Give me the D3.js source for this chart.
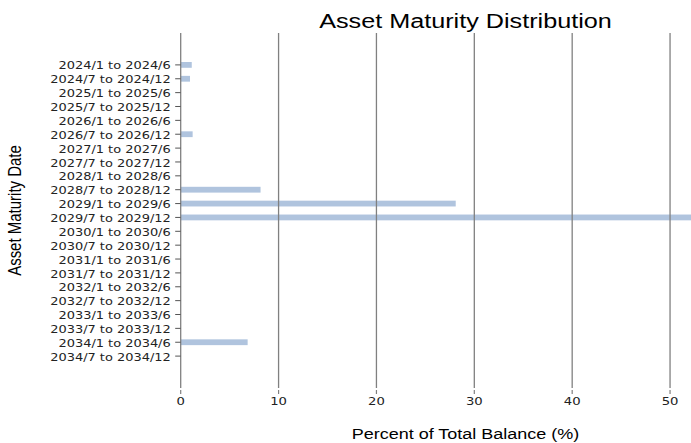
<!DOCTYPE html>
<html>
<head>
<meta charset="utf-8">
<script src="https://cdn.jsdelivr.net/npm/d3@7"></script>
<style>
  html, body { margin: 0; padding: 0; background: #fff; }
  svg { display: block; }
</style>
</head>
<body>
<div id="chart"></div>
<script>
const categories = [
  "2024/1 to 2024/6", "2024/7 to 2024/12",
  "2025/1 to 2025/6", "2025/7 to 2025/12",
  "2026/1 to 2026/6", "2026/7 to 2026/12",
  "2027/1 to 2027/6", "2027/7 to 2027/12",
  "2028/1 to 2028/6", "2028/7 to 2028/12",
  "2029/1 to 2029/6", "2029/7 to 2029/12",
  "2030/1 to 2030/6", "2030/7 to 2030/12",
  "2031/1 to 2031/6", "2031/7 to 2031/12",
  "2032/1 to 2032/6", "2032/7 to 2032/12",
  "2033/1 to 2033/6", "2033/7 to 2033/12",
  "2034/1 to 2034/6", "2034/7 to 2034/12"
];
const percentValues = [
  1.13, 0.95,
  0, 0,
  0, 1.22,
  0, 0,
  0, 8.16,
  28.1, 53.6,
  0, 0,
  0, 0,
  0, 0,
  0, 0,
  6.84, 0
];
const xTickValues = [0, 10, 20, 30, 40, 50];
const xAxisMax = 58.2;
const titleText = "Asset Maturity Distribution";
const xLabelText = "Percent of Total Balance (%)";
const yLabelText = "Asset Maturity Date";

const W = 691, H = 443;
const SX = 1.2; // horizontal stretch of the original picture
const plot = { left: 180.7, right: 750.3, top: 33, bottom: 388 };

const svg = d3.select("#chart").append("svg")
  .attr("width", W).attr("height", H);

const x = d3.scaleLinear().domain([0, xAxisMax]).range([plot.left, plot.right]);
const y = d3.scalePoint().domain(categories).range([plot.top, plot.bottom]).padding(2.3);

svg.append("defs").append("clipPath").attr("id", "plotclip")
  .append("rect").attr("x", plot.left).attr("y", plot.top)
  .attr("width", plot.right - plot.left).attr("height", plot.bottom - plot.top);

function stext(parent, tx, ty, str, opts) {
  return parent.append("text")
    .attr("transform", `translate(${tx},${ty}) scale(${SX},1)` + (opts.rotate ? ` rotate(${opts.rotate})` : ""))
    .attr("font-family", opts.family)
    .attr("font-size", opts.size)
    .attr("fill", opts.fill || "#000")
    .attr("text-anchor", opts.anchor || "middle")
    .text(str);
}

// bars
const barH = 5.8;
svg.append("g").attr("clip-path", "url(#plotclip)")
  .selectAll("rect").data(categories.map((c, i) => ({ c, v: percentValues[i] })))
  .join("rect")
  .attr("x", x(0))
  .attr("y", d => y(d.c) - barH / 2)
  .attr("width", d => Math.max(0, x(d.v) - x(0)))
  .attr("height", barH)
  .attr("fill", "#b0c4de");

// vertical grid lines
svg.append("g").selectAll("line").data(xTickValues).join("line")
  .attr("x1", d => x(d)).attr("x2", d => x(d))
  .attr("y1", plot.top).attr("y2", plot.bottom)
  .attr("stroke", "#808080").attr("stroke-width", 1.3);

// x axis ticks + labels
const xAxis = svg.append("g");
xAxis.selectAll("line").data(xTickValues).join("line")
  .attr("x1", d => x(d)).attr("x2", d => x(d))
  .attr("y1", 390).attr("y2", 394)
  .attr("stroke", "#808080").attr("stroke-width", 1.2);
xTickValues.forEach(v => {
  stext(xAxis, x(v), 405.3, String(v), { family: "DejaVu Sans", size: 11, fill: "#222" });
});

// y axis ticks + labels
const yAxis = svg.append("g");
yAxis.selectAll("line").data(categories).join("line")
  .attr("x1", plot.left - 5.5).attr("x2", plot.left)
  .attr("y1", d => y(d)).attr("y2", d => y(d))
  .attr("stroke", "#555").attr("stroke-width", 1);
categories.forEach(c => {
  stext(yAxis, 170.7, y(c) + 4.6, c, { family: "DejaVu Sans", size: 10.8, fill: "#222", anchor: "end" });
});

// title
stext(svg, (plot.left + plot.right) / 2, 27.7, titleText, { family: "Liberation Sans, Arial, sans-serif", size: 21 });
// x label
stext(svg, (plot.left + plot.right) / 2, 439.3, xLabelText, { family: "Liberation Sans, Arial, sans-serif", size: 15 });
// y label
stext(svg, 21.2, (plot.top + plot.bottom) / 2, yLabelText, { family: "Liberation Sans, Arial, sans-serif", size: 15, rotate: -90 });
</script>
</body>
</html>
